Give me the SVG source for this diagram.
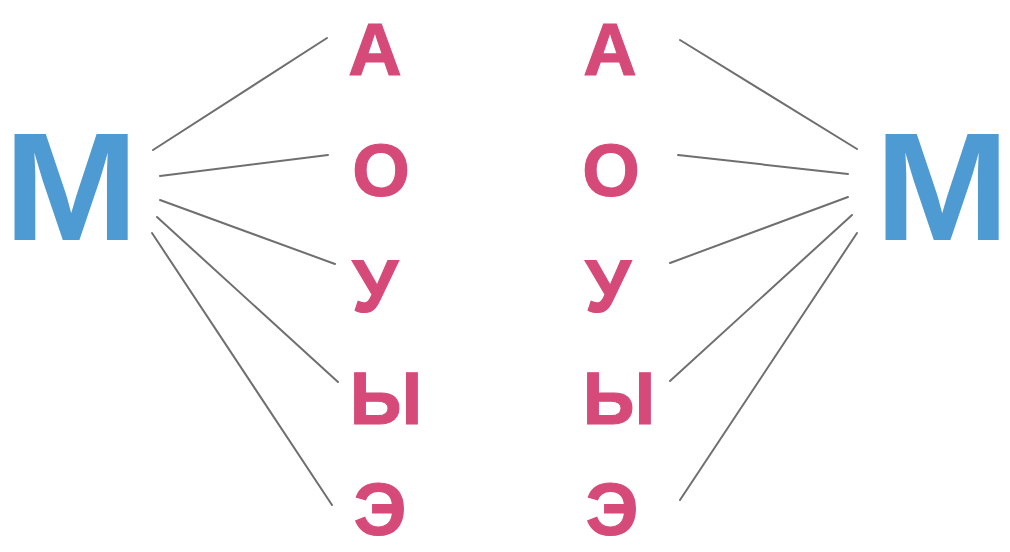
<svg xmlns="http://www.w3.org/2000/svg" width="1010" height="552" viewBox="0 0 1010 552">
<style>
.m{font-family:"Liberation Sans",Arial,sans-serif;font-weight:bold;font-size:154px;fill:#4d9bd2;text-anchor:middle}
.v{font-family:"Liberation Sans",Arial,sans-serif;font-weight:bold;font-size:74px;fill:#d64a7a;stroke:#d64a7a;stroke-width:1.2;text-anchor:middle}
.c line{stroke:#6f6f6f;stroke-width:2;stroke-linecap:round}
</style>
<rect width="1010" height="552" fill="#ffffff"/>
<g class="c" id="connectors">
<line x1="153" y1="150" x2="327" y2="38"/>
<line x1="160" y1="176" x2="328" y2="155"/>
<line x1="160" y1="200" x2="335" y2="264"/>
<line x1="157" y1="217" x2="338" y2="382"/>
<line x1="152" y1="233" x2="332" y2="505"/>
<line x1="680" y1="40" x2="857" y2="149"/>
<line x1="678" y1="155" x2="848" y2="174"/>
<line x1="670" y1="263" x2="848" y2="197"/>
<line x1="670" y1="381" x2="852" y2="215"/>
<line x1="680" y1="500" x2="857" y2="233"/>
</g>
<g id="m-left"><text class="m" x="71" y="240" transform="translate(71 0) scale(1.05 1) translate(-71 0)">М</text></g>
<g id="m-right"><text class="m" x="942" y="240" transform="translate(942 0) scale(1.05 1) translate(-942 0)">М</text></g>
<g id="l-a"><text class="v" x="375" y="75">А</text></g>
<g id="l-o"><text class="v" x="381" y="196">О</text></g>
<g id="l-u"><text class="v" x="375" y="312">У</text></g>
<g id="l-y"><text class="v" x="386" y="424">Ы</text></g>
<g id="l-e"><text class="v" x="380" y="535">Э</text></g>
<g id="r-a"><text class="v" x="610" y="75">А</text></g>
<g id="r-o"><text class="v" x="611" y="196">О</text></g>
<g id="r-u"><text class="v" x="608" y="312">У</text></g>
<g id="r-y"><text class="v" x="619" y="424">Ы</text></g>
<g id="r-e"><text class="v" x="612" y="535">Э</text></g>
</svg>
